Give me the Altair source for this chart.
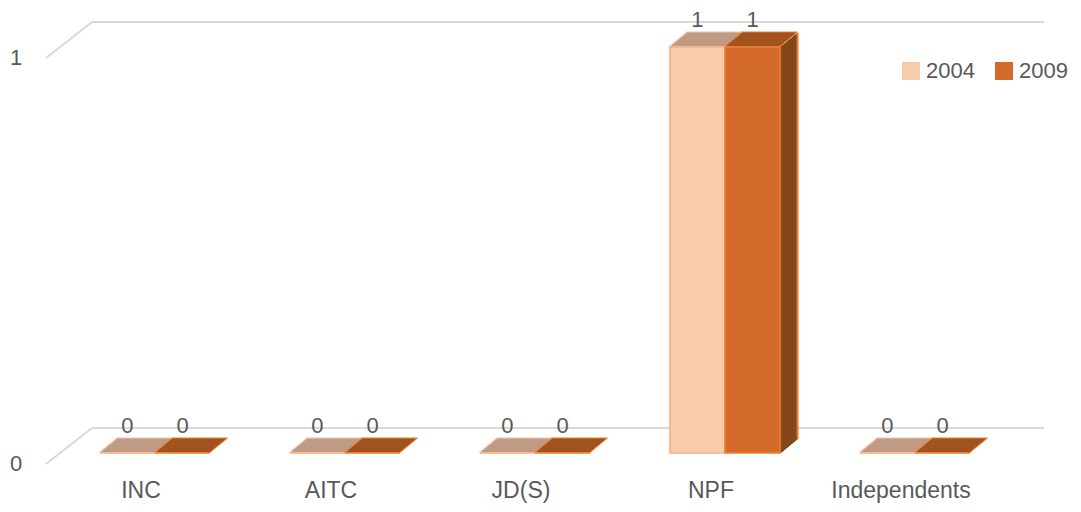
import altair as alt
import pandas as pd

# ---- data ----
categories = ["INC", "AITC", "JD(S)", "NPF", "Independents"]
years = ["2004", "2009"]
seats_2004 = [0, 0, 0, 1, 0]
seats_2009 = [0, 0, 0, 1, 0]
y_ticks = [0, 1]

BAR = 0.29  # bar width in category steps
rows = []
for ci, (c, a, b) in enumerate(zip(categories, seats_2004, seats_2009)):
    for yi, (yr, v) in enumerate(zip(years, [a, b])):
        xl = ci + (yi - 1) * BAR
        rows.append({"party": c, "year": yr, "seats": v, "zero": 0,
                     "xl": xl, "xr": xl + BAR, "xc": xl + BAR / 2})
df = pd.DataFrame(rows)
ticks_df = pd.DataFrame({"v": y_ticks})
cat_df = pd.DataFrame({"party": categories, "ci": list(range(len(categories)))})

# ---- styling ----
W, H = 950, 406
FONT = "Liberation Sans"
TXT = "#595959"
GRID = "#D9D9D9"
FRONT = ["#F8CBAD", "#D46B2A"]
FRONT_EDGE = ["#F4B183", "#ED7D31"]
TOP = {"2004": "#BF9A84", "2009": "#A0531F"}
TOP_EDGE = {"2004": "#F6C4A3", "2009": "#ED7D31"}
SIDE = "#84461A"
D, E = 17, 14          # depth of the bars (px right, px up)

y_scale = alt.Scale(domain=[0, 1])
x_scale = alt.Scale(domain=[-0.5, len(categories) - 0.5], nice=False, zero=False)
y_enc = alt.Y("seats:Q", scale=y_scale, axis=None)
xl_enc = alt.X("xl:Q", scale=x_scale, axis=None)
xr_enc = alt.X2("xr:Q")

layers = []

# back-wall gridlines and the left-wall diagonals
layers.append(
    alt.Chart(ticks_df).mark_rule(stroke=GRID, strokeWidth=2, yOffset=-25).encode(
        y=alt.Y("v:Q", scale=y_scale, axis=None), x=alt.value(32), x2=alt.value(984))
)
layers.append(
    alt.Chart(ticks_df).mark_rule(stroke=GRID, strokeWidth=2, yOffset=11, y2Offset=-25).encode(
        x=alt.value(-14), x2=alt.value(32),
        y=alt.Y("v:Q", scale=y_scale, axis=None), y2="v:Q")
)
layers.append(
    alt.Chart(ticks_df).mark_text(font=FONT, fontSize=22, color=TXT, align="center",
                                  baseline="middle", dy=11).encode(
        x=alt.value(-44), y=alt.Y("v:Q", scale=y_scale, axis=None), text="v:Q")
)


def strip(yr, t, col, inset):
    dx = t * D / E
    return alt.Chart(df).transform_filter(f"datum.year == '{yr}'").mark_bar(
        color=col, xOffset=dx + inset, x2Offset=dx - inset,
        yOffset=-t, y2Offset=-t - 1.5).encode(
        x=xl_enc, x2=xr_enc, y=y_enc, y2="seats:Q")


def top_layers(yr):
    out = [strip(yr, t, TOP_EDGE[yr], -0.5) for t in range(E + 1)]
    out += [strip(yr, t, TOP[yr], 1.0) for t in range(1, E)]
    return out


def side_layers(yr):
    out = []
    for t in range(E + 1):
        dx = t * D / E
        col = TOP_EDGE[yr] if t == E else SIDE
        out.append(
            alt.Chart(df).transform_filter(f"datum.year == '{yr}' && datum.seats > 0").mark_bar(
                color=col, xOffset=dx - 0.5, x2Offset=dx + 1.5,
                yOffset=-t, y2Offset=-t).encode(
                x=alt.X("xr:Q", scale=x_scale, axis=None), x2="xr:Q", y=y_enc, y2="zero:Q")
        )
    return out


layers += top_layers("2004")
layers += side_layers("2009")
layers += top_layers("2009")

# front faces (carry the legend)
layers.append(
    alt.Chart(df).mark_bar(strokeWidth=1.5).encode(
        x=xl_enc, x2=xr_enc, y=y_enc, y2="zero:Q",
        color=alt.Color("year:N", sort=years,
                        scale=alt.Scale(domain=years, range=FRONT),
                        legend=alt.Legend(title=None, orient="none", legendX=840, legendY=13,
                                          direction="horizontal", symbolType="square",
                                          symbolSize=324, symbolStrokeWidth=0,
                                          labelFont=FONT, labelFontSize=22, labelColor=TXT,
                                          labelOffset=4, columnPadding=18, padding=0)),
        stroke=alt.Stroke("year:N", sort=years,
                          scale=alt.Scale(domain=years, range=FRONT_EDGE), legend=None))
)

# value labels
layers.append(
    alt.Chart(df).mark_text(font=FONT, fontSize=22, color=TXT, align="center",
                            baseline="alphabetic", dy=-20).encode(
        x=alt.X("xc:Q", scale=x_scale, axis=None), y=y_enc, text="seats:Q")
)

# category labels
layers.append(
    alt.Chart(cat_df).mark_text(font=FONT, fontSize=23, color=TXT, align="center",
                                baseline="alphabetic", dx=-14).encode(
        x=alt.X("ci:Q", scale=x_scale, axis=None), y=alt.value(451), text="party:N")
)

chart = alt.layer(*layers).properties(
    width=W, height=H,
    autosize=alt.AutoSizeParams(type="none"),
    padding={"left": 52, "top": 39, "right": 63, "bottom": 51},
).configure_view(stroke=None)

chart.save("out.html", embed_options={"renderer": "svg", "actions": False})
